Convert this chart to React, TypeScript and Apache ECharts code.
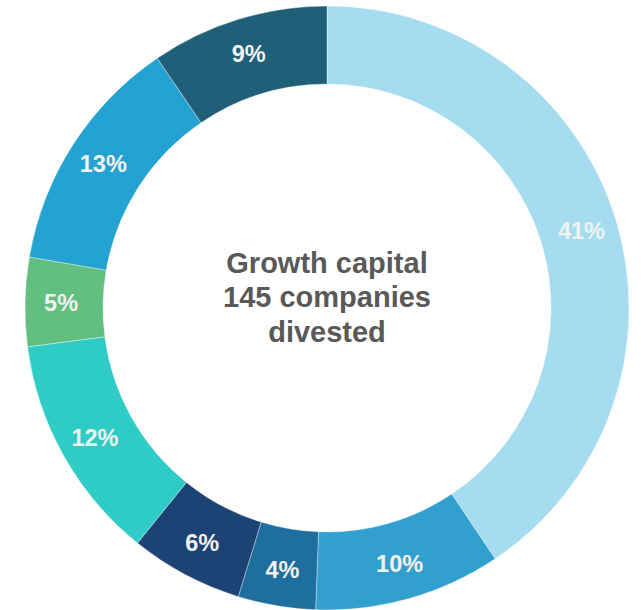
import React, { useEffect, useRef } from "react";
import * as echarts from "echarts";

const labels = ["41%", "10%", "4%", "6%", "12%", "5%", "13%", "9%"];
const values = [40.6, 10.0, 4.15, 6.05, 12.15, 4.75, 12.8, 9.5];
const colors = ["#A5DCF0", "#32A0CF", "#1E6E9E", "#1C4373", "#2ECCC5", "#62BF80", "#24A2D2", "#1F5F78"];
const centerLines = ["Growth capital", "145 companies", "divested"];

export default function App() {
  const ref = useRef<HTMLDivElement>(null);
  useEffect(() => {
    if (!ref.current) return;
    const chart = echarts.init(ref.current, null, { renderer: "svg" });
    chart.setOption({
      animation: false,
      backgroundColor: "#ffffff",
      series: [
        {
          type: "pie",
          center: [327, 308],
          radius: [224, 302],
          startAngle: 90,
          clockwise: true,
          silent: true,
          data: values.map((v, i) => ({
            value: v,
            name: labels[i],
            itemStyle: { color: colors[i] },
          })),
          itemStyle: { borderColor: "rgba(255,255,255,0.6)", borderWidth: 0.6 },
          label: {
            show: true,
            position: "inside",
            formatter: "{b}",
            color: "#F2F2F2",
            fontFamily: "Liberation Sans, Arial, sans-serif",
            fontWeight: "bold",
            fontSize: 23.5,
          },
          labelLine: { show: false },
        },
      ],
      graphic: [
        {
          type: "text",
          x: 327,
          y: 297,
          style: {
            text: centerLines.join("\n"),
            fill: "#595959",
            fontFamily: "Liberation Sans, Arial, sans-serif",
            fontWeight: "bold",
            fontSize: 29,
            lineHeight: 34.5,
            align: "center",
            verticalAlign: "middle",
          },
        },
      ],
    });
    return () => chart.dispose();
  }, []);
  return (
    <div
      ref={ref}
      style={{ position: "fixed", left: 0, top: 0, width: 641, height: 610 }}
    />
  );
}
